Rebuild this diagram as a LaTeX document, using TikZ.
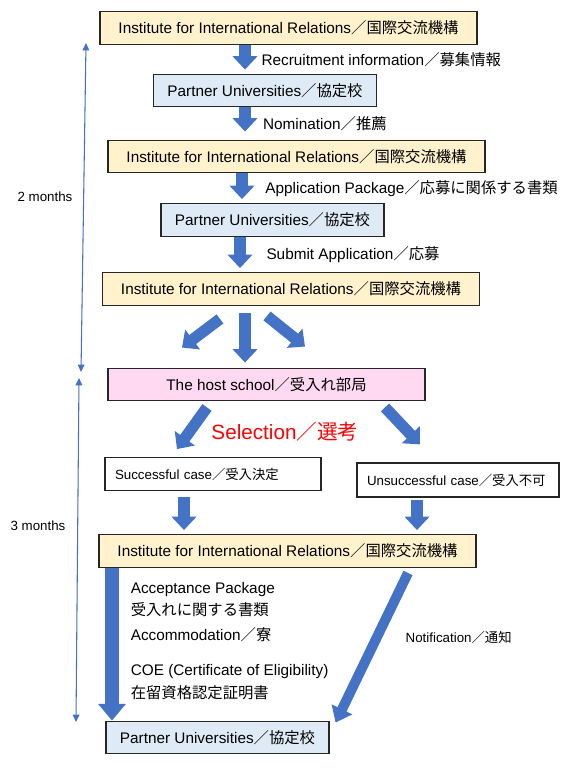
\documentclass[tikz,border=0pt]{standalone}
\usepackage{fontspec}
\setmainfont{Liberation Sans}
\newfontfamily\jpfont{Noto Sans CJK JP}
\newcommand{\jtext}[1]{{\jpfont #1}}
\usepackage{tikz}
\usetikzlibrary{arrows.meta,calc}
\definecolor{instfill}{HTML}{FFF2CC}
\definecolor{partfill}{HTML}{DEEBF7}
\definecolor{hostfill}{HTML}{FFD9F2}
\definecolor{flowblue}{HTML}{4472C4}

\begin{document}
\begin{tikzpicture}[x=0.75pt,y=-0.75pt]
			\tikzstyle{office}=[draw=black!85,line width=0.9pt,rectangle,text centered,inner sep=0pt,minimum height=24.5pt,font=\fontsize{11.5}{14}\selectfont]
			\tikzstyle{inst}=[office,fill=instfill,minimum width=282.75pt]
			\tikzstyle{partner}=[office,fill=partfill,minimum width=167.25pt]
			\tikzstyle{casebox}=[office,fill=white,align=left,inner xsep=7.5pt,font=\fontsize{10}{12}\selectfont]
			\tikzstyle{flow}=[flowblue,line width=8.5pt,shorten >=3pt,-{Triangle[width=18pt,length=10pt]}]
			\tikzstyle{bigflow}=[flowblue,line width=10.5pt,-{Triangle[width=20pt,length=12.5pt]}]
			\tikzstyle{lbl}=[text=black,font=\fontsize{11.5}{14}\selectfont,anchor=west]
			\tikzstyle{span}=[flowblue,line width=0.8pt,{Triangle[width=5pt,length=5.5pt]}-{Triangle[width=5pt,length=5.5pt]}]
			
			\useasboundingbox (0,0) rectangle (580,768);
			
			\node[inst] (iir1) at (288.5,28) {Institute for International Relations\jtext{／国際交流機構}};
			\node[partner] (pu1) at (265,90.5) {Partner Universities\jtext{／協定校}};
			\node[inst] (iir2) at (296.5,156.5) {Institute for International Relations\jtext{／国際交流機構}};
			\node[partner] (pu2) at (272.5,220) {Partner Universities\jtext{／協定校}};
			\node[inst] (iir3) at (291,289) {Institute for International Relations\jtext{／国際交流機構}};
			\node[office,fill=hostfill,minimum width=237.75pt] (host) at (266.5,384.5) {The host school\jtext{／受入れ部局}};
			\node[casebox,text width=147pt] (pass) at (213,474) {Successful case\jtext{／受入決定}};
			\node[casebox,text width=136.5pt,minimum height=25.5pt] (fail) at (458,480) {Unsuccessful case\jtext{／受入不可}};
			\node[inst] (iir4) at (287.5,551) {Institute for International Relations\jtext{／国際交流機構}};
			\node[partner] (pu3) at (217.5,737.5) {Partner Universities\jtext{／協定校}};
			
			\node[text=red,font=\fontsize{15.5}{18}\selectfont] (select) at (285,432) {Selection\jtext{／選考}};
			
			\draw[flow] (245,0 |- iir1.south) -- (245,0 |- pu1.north) node[lbl,midway,right=4.8pt] {Recruitment information\jtext{／募集情報}};
			\draw[flow,shorten >=6pt] (245,0 |- pu1.south) -- (245,0 |- iir2.north) node[lbl,midway,right=6pt] {Nomination\jtext{／推薦}};
			\draw[flow] (242,0 |- iir2.south) -- (242,0 |- pu2.north) node[lbl,midway,right=10pt] {Application Package\jtext{／応募に関係する書類}};
			\draw[flow] (240,0 |- pu2.south) -- (240,0 |- iir3.north) node[lbl,midway,right=12.3pt] {Submit Application\jtext{／応募}};
			
			\draw[flow,shorten >=0pt] ($(iir3.south)+(-71,13)$) -- ($(host.north)+(-84.5,-20)$);
			\draw[flow,shorten >=0pt] ($(iir3.south)+(-46,7)$) -- ($(host.north)+(-21.5,-5)$);
			\draw[flow,shorten >=0pt] ($(iir3.south)+(-24,10)$) -- ($(host.north)+(38.5,-21)$);
			
			\draw[flow,shorten >=0pt] ($(host.south)+(-59.5,6)$) -- ($(pass.north)+(-36,-8)$);
			\draw[flow,shorten >=0pt] ($(host.south)+(118.5,6)$) -- ($(fail.north)+(-38,-18)$);
			
			\draw[flow] (184,0 |- pass.south) ++(0,6) -- (184,0 |- iir4.north);
			\draw[flow] (417,0 |- fail.south) ++(0,2) -- (417,0 |- iir4.north);
			
			\draw[bigflow] (112,0 |- iir4.south) -- (112,0 |- pu3.north) node[lbl,pos=0.48,right=5.5pt,align=left,font=\fontsize{11.5}{16.5}\selectfont] {Acceptance Package\\\jtext{受入れに関する書類}\\[2.25pt]Accommodation\jtext{／寮}\\[9.75pt]COE (Certificate of Eligibility)\\[0.75pt]\jtext{在留資格認定証明書}};
			\draw[flow,line width=7.5pt,-{Triangle[width=16.5pt,length=11pt]},shorten >=0pt] ($(iir4.south)+(120.5,5)$) -- ($(pu3.north east)+(6,2)$) node[lbl,pos=0.43,right=14.5pt,font=\fontsize{10}{12}\selectfont] {Notification\jtext{／通知}};
			
			\coordinate (twoTop) at (86,43);
			\coordinate (twoEnd) at (81,372);
			\coordinate (threeTop) at (79,378);
			\coordinate (threeEnd) at (76,722);
			\draw[span] (twoTop) -- (twoEnd);
			\draw[span] (threeTop) -- (threeEnd);
			\node[font=\fontsize{10}{12}\selectfont] (two) at (45,197) {2 months};
			\node[font=\fontsize{10}{12}\selectfont] (three) at (38,526) {3 months};
			
		\end{tikzpicture}
\end{document}
